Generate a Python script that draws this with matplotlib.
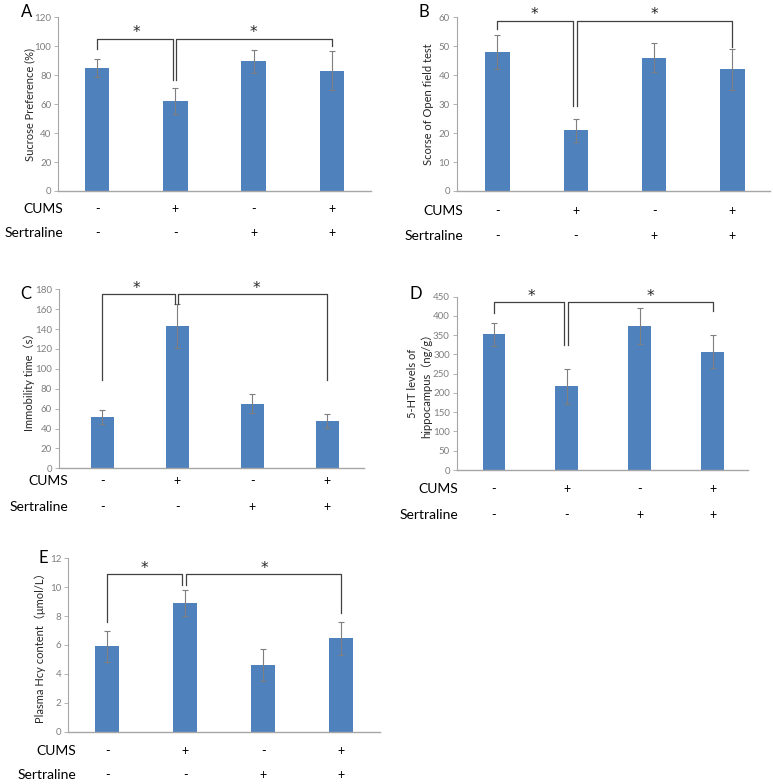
import matplotlib
matplotlib.use("Agg")
import matplotlib.pyplot as plt
from matplotlib.transforms import blended_transform_factory

plt.rcParams['font.family'] = ['Lato', 'Noto Sans CJK SC', 'DejaVu Sans']

cums = ['-', '+', '-', '+']
sertraline = ['-', '-', '+', '+']

sucrose = [85, 62, 89.5, 83]
sucrose_err = [6, 9, 8, 13.5]
openfield = [48, 21, 46, 42]
openfield_err = [6, 4, 5, 7]
immobility = [52, 143, 65, 48]
immobility_err = [7, 22, 9.5, 7]
serotonin = [352, 217, 373, 307]
serotonin_err = [31, 45, 47, 43]
hcy = [5.9, 8.9, 4.6, 6.45]
hcy_err = [1.1, 0.9, 1.1, 1.15]

W, H = 773, 784
fig = plt.figure(figsize=(W / 100, H / 100), dpi=100)

BAR = '#4f81bd'
AX = '#a6a6a6'
LINE = '#404040'


def px_axes(left, top, right, bottom):
    return [left / W, 1 - bottom / H, (right - left) / W, (bottom - top) / H]


panels = [
    dict(letter='A', rect=(58.3, 17.3, 370.7, 191), vals=sucrose, err=sucrose_err,
         ymax=120, step=20, ylabel='Sucrose Preference (%)', xlim=(-0.5, 3.5),
         br=(105.2, 98.1, 76.7, 100.2), star_y=29, stars=(0.5, 2.0),
         letter_xy=(21, 12), rows=(208.7, 233), lab_right=63, ylab_x=30),
    dict(letter='B', rect=(456.7, 17.3, 770, 191), vals=openfield, err=openfield_err,
         ymax=60, step=10, ylabel='Scorse of Open field test', xlim=(-0.52, 3.48),
         br=(58.8, 55.9, 29.4, 49.9), star_y=12, stars=(0.47, 2.0),
         letter_xy=(419, 12), rows=(210.7, 236), lab_right=463, ylab_x=428),
    dict(letter='C', rect=(59, 289.3, 364, 468.3), vals=immobility, err=immobility_err,
         ymax=180, step=20, ylabel='Immobility time（s）', xlim=(-0.577, 3.49),
         br=(175, 88.8, 165.2, 88.8), star_y=285, stars=(0.46, 2.05),
         letter_xy=(20, 294), rows=(480.7, 506.7), lab_right=68, ylab_x=29),
    dict(letter='D', rect=(456.7, 296.7, 748.3, 470), vals=serotonin, err=serotonin_err,
         ymax=450, step=50, ylabel='5-HT levels of\nhippocampus（ng/g）', xlim=(-0.51, 3.49),
         br=(435.3, 406.7, 324.5, 413.7), star_y=293.5, stars=(0.52, 2.15),
         letter_xy=(410, 294), rows=(489.3, 515), lab_right=458, ylab_x=420),
    dict(letter='E', rect=(68.3, 558.3, 380, 731.7), vals=hcy, err=hcy_err,
         ymax=12, step=2, ylabel='Plasma Hcy content（μmol/L）', xlim=(-0.5, 3.5),
         br=(10.9, 7.6, 10.15, 8.2), star_y=566, stars=(0.48, 2.02),
         letter_xy=(38, 558), rows=(751, 775), lab_right=76, ylab_x=40),
]

for p in panels:
    ax = fig.add_axes(px_axes(*p['rect']))
    x = list(range(len(p['vals'])))
    ax.bar(x, p['vals'], width=0.31, color=BAR, zorder=2)
    ax.errorbar(x, p['vals'], yerr=p['err'], fmt='none', ecolor='#7f7f7f',
                elinewidth=0.8, capsize=2.5, capthick=0.8, zorder=3)
    ax.set_xlim(*p['xlim'])
    ax.set_ylim(0, p['ymax'])
    ax.set_yticks(range(0, p['ymax'] + 1, p['step']))
    ax.set_xticks([])
    for s in ('top', 'right'):
        ax.spines[s].set_visible(False)
    ax.spines['left'].set_color(AX)
    ax.spines['bottom'].set_color(AX)
    ax.spines['left'].set_linewidth(0.8)
    ax.spines['bottom'].set_linewidth(1.0)
    ax.tick_params(axis='y', colors=AX, labelcolor='#7f7f7f', labelsize=7,
                   length=3, width=0.6, pad=2)

    # y label
    fig.text(p['ylab_x'] / W, 1 - ((p['rect'][1] + p['rect'][3]) / 2) / H, p['ylabel'],
             rotation=90, ha='center', va='center', fontsize=8, color='#262626',
             linespacing=1.3)

    # significance brackets
    top, lb, mb, rb = p['br']
    kw = dict(color=LINE, lw=0.9, clip_on=False, zorder=4)
    ax.plot([0, 0, 1 - 0.035, 1 - 0.035], [lb, top, top, mb], **kw)
    ax.plot([1 + 0.01, 1 + 0.01, 3, 3], [mb, top, top, rb], **kw)
    trs = blended_transform_factory(ax.transData, fig.transFigure)
    for sx in p['stars']:
        ax.text(sx, 1 - (p['star_y'] + 3) / H, '*', transform=trs, ha='center',
                va='center', fontsize=11, family='DejaVu Sans', color='#262626',
                clip_on=False)

    # panel letter
    fig.text(p['letter_xy'][0] / W, 1 - p['letter_xy'][1] / H, p['letter'],
             ha='left', va='center', fontsize=12, color='black')

    # treatment rows
    tr = blended_transform_factory(ax.transData, fig.transFigure)
    for name, signs, yy in (('CUMS', cums, p['rows'][0]),
                            ('Sertraline', sertraline, p['rows'][1])):
        fig.text(p['lab_right'] / W, 1 - yy / H, name, ha='right', va='center',
                 fontsize=10, color='black')
        for xi, sgn in zip(x, signs):
            ax.text(xi, 1 - yy / H, sgn, transform=tr, ha='center', va='center',
                    fontsize=9, color='black')

fig.savefig('out.png', dpi=100, facecolor='white')
